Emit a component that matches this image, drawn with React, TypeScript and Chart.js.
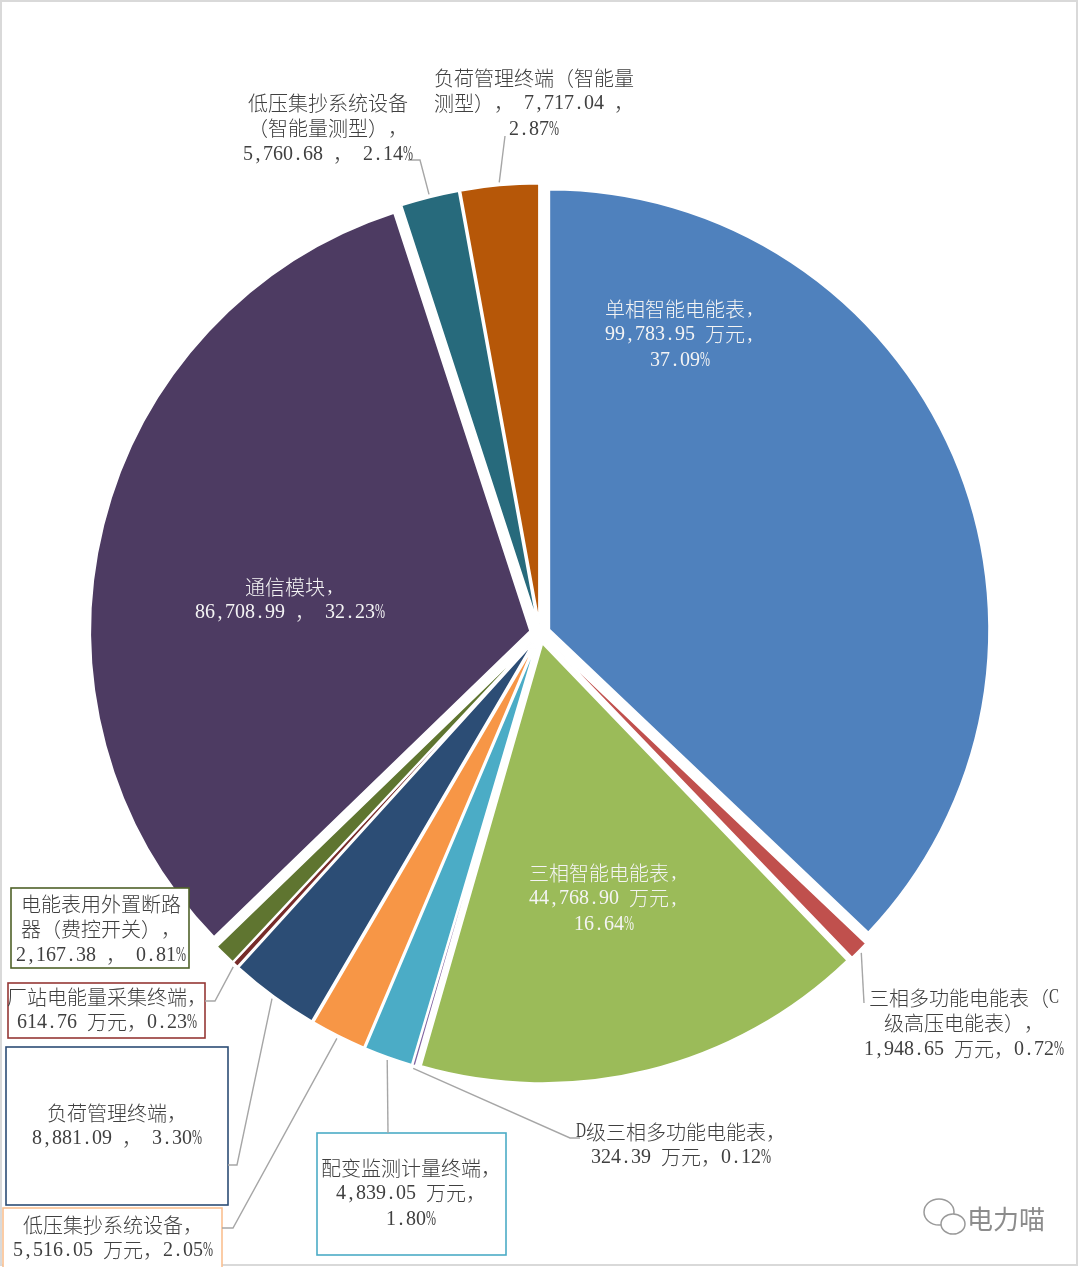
import React, { useEffect, useRef } from "react";
import { Chart, registerables } from "chart.js";

Chart.register(...registerables);

// ---------- data ----------
const categories = [
  "单相智能电能表",
  "三相多功能电能表（C级高压电能表）",
  "三相智能电能表",
  "D级三相多功能电能表",
  "配变监测计量终端",
  "低压集抄系统设备",
  "负荷管理终端",
  "厂站电能量采集终端",
  "电能表用外置断路器（费控开关）",
  "通信模块",
  "低压集抄系统设备（智能量测型）",
  "负荷管理终端（智能量测型）",
];
const values = [
  99783.95, 1948.65, 44768.9, 324.39, 4839.05, 5516.05, 8881.09, 614.76,
  2167.38, 86708.99, 5760.68, 7717.04,
];
const colors = [
  "#4F81BD", "#C0504D", "#9BBB59", "#8064A2", "#4BACC6", "#F79646",
  "#2C4D75", "#772C2A", "#5F7530", "#4D3B62", "#276A7C", "#B65708",
];
const labelLines: string[][] = [
  ["单相智能电能表,", "99,783.95 万元,", "37.09%"],
  ["三相多功能电能表（C", "级高压电能表），", "1,948.65 万元，0.72%"],
  ["三相智能电能表,", "44,768.90 万元,", "16.64%"],
  ["D级三相多功能电能表，", "324.39 万元，0.12%"],
  ["配变监测计量终端，", "4,839.05 万元，", "1.80%"],
  ["低压集抄系统设备，", "5,516.05 万元，2.05%"],
  ["负荷管理终端，", "8,881.09 ， 3.30%"],
  ["厂站电能量采集终端，", "614.76 万元，0.23%"],
  ["电能表用外置断路", "器（费控开关），", "2,167.38 ， 0.81%"],
  ["通信模块,", "86,708.99 ， 32.23%"],
  ["低压集抄系统设备", "（智能量测型），", "5,760.68 ， 2.14%"],
  ["负荷管理终端（智能量", "测型）， 7,717.04 ，", "2.87%"],
];

// ---------- label layout (annotation placement only) ----------
type LabelLayout = {
  x: number;
  y: number;
  inside?: boolean;
  box?: [number, number, number, number];
  boxColor?: string;
  leader?: [number, number][];
};
const labelLayout: LabelLayout[] = [
  { x: 680, y: 309, inside: true },
  { x: 964, y: 998, leader: [[864, 1003]] },
  { x: 604, y: 873, inside: true },
  { x: 681, y: 1132, leader: [[570, 1138], [580, 1138]] },
  { x: 411, y: 1168, box: [317, 1133, 189, 122], leader: [[388, 1133]] },
  { x: 113, y: 1225, box: [3, 1208, 219, 72], boxColor: "#FAC090", leader: [[233, 1228], [222, 1228]] },
  { x: 117, y: 1113, box: [6, 1047, 222, 158], leader: [[237, 1165], [228, 1165]] },
  { x: 107, y: 997, box: [8, 983, 197, 55], boxColor: "#953735", leader: [[215, 1001], [205, 1001]] },
  { x: 101, y: 904, box: [11, 888, 178, 80], boxColor: "#4F6228" },
  { x: 290, y: 587, inside: true },
  { x: 328, y: 103, leader: [[420, 160], [408, 160]] },
  { x: 534, y: 78, leader: [[505, 136]] },
];

const EXPLODE = 10;
const FS = 20;
const LINE_H = 25.8;
const CJK_FONT = `300 ${FS}px 'Noto Sans CJK SC', sans-serif`;
const LAT_FONT = `${FS}px 'Liberation Serif', serif`;

function isFull(ch: string) {
  return ch.charCodeAt(0) >= 0x2e80;
}

function drawMixed(ctx: CanvasRenderingContext2D, text: string, cx: number, cy: number) {
  const chars = Array.from(text);
  const widths = chars.map((c) => (isFull(c) ? FS : FS / 2));
  const total = widths.reduce((a, b) => a + b, 0);
  let x = cx - total / 2;
  ctx.textBaseline = "middle";
  chars.forEach((c, k) => {
    const w = widths[k];
    if (isFull(c)) {
      ctx.font = CJK_FONT;
      ctx.textAlign = "left";
      ctx.fillText(c, x, cy);
    } else if (c !== " ") {
      ctx.font = LAT_FONT;
      ctx.textAlign = "center";
      const gw = ctx.measureText(c).width;
      if (gw > w) {
        ctx.save();
        ctx.translate(x + w / 2, cy);
        ctx.scale(w / gw, 1);
        ctx.fillText(c, 0, 0);
        ctx.restore();
      } else {
        ctx.fillText(c, x + w / 2, cy);
      }
    }
    x += w;
  });
}

const explodePlugin = {
  id: "explodeArcs",
  beforeDraw(chart: any) {
    const ctx = chart.ctx;
    ctx.save();
    ctx.fillStyle = "#ffffff";
    ctx.fillRect(0, 0, chart.width, chart.height);
    ctx.restore();
  },
  beforeDatasetDraw(chart: any, args: any) {
    const ctx: CanvasRenderingContext2D = chart.ctx;
    args.meta.data.forEach((arc: any) => {
      const { startAngle, endAngle } = arc.getProps(["startAngle", "endAngle"], true);
      const mid = (startAngle + endAngle) / 2;
      ctx.save();
      ctx.translate(Math.cos(mid) * EXPLODE, Math.sin(mid) * EXPLODE);
      arc.draw(ctx, chart.chartArea);
      ctx.restore();
    });
    return false;
  },
};

const labelPlugin = {
  id: "pieLabels",
  afterDraw(chart: any) {
    const ctx: CanvasRenderingContext2D = chart.ctx;
    const meta = chart.getDatasetMeta(0);
    ctx.save();
    // frame
    ctx.strokeStyle = "#D9D9D9";
    ctx.lineWidth = 2;
    ctx.strokeRect(1, 1, 1076, 1264);

    meta.data.forEach((arc: any, i: number) => {
      const lay = labelLayout[i];
      const lines = labelLines[i];
      if (!lay || !lines) return;
      const { x, y, startAngle, endAngle, outerRadius } = arc.getProps(
        ["x", "y", "startAngle", "endAngle", "outerRadius"],
        true
      );
      const mid = (startAngle + endAngle) / 2;
      if (lay.box) {
        const [bx, by, bw, bh] = lay.box;
        ctx.fillStyle = "#ffffff";
        ctx.fillRect(bx, by, bw, bh);
        ctx.strokeStyle = lay.boxColor || colors[i];
        ctx.lineWidth = 1.6;
        ctx.strokeRect(bx, by, bw, bh);
      }
      if (lay.leader) {
        const r = outerRadius + EXPLODE + 3;
        ctx.beginPath();
        ctx.moveTo(x + Math.cos(mid) * r, y + Math.sin(mid) * r);
        lay.leader.forEach(([lx, ly]) => ctx.lineTo(lx, ly));
        ctx.strokeStyle = "#A6A6A6";
        ctx.lineWidth = 1.4;
        ctx.stroke();
      }
      ctx.fillStyle = lay.inside ? "#F4F4F4" : "#404040";
      lines.forEach((t, k) => drawMixed(ctx, t, lay.x, lay.y + k * LINE_H));
    });

    // watermark
    ctx.strokeStyle = "#9a9a9a";
    ctx.lineWidth = 1.5;
    ctx.beginPath();
    ctx.ellipse(939, 1212, 15, 13, 0, 0, Math.PI * 2);
    ctx.stroke();
    ctx.fillStyle = "#ffffff";
    ctx.beginPath();
    ctx.ellipse(953, 1224, 12, 10, 0, 0, Math.PI * 2);
    ctx.fill();
    ctx.stroke();
    ctx.font = "26px 'Noto Sans CJK SC', sans-serif";
    ctx.fillStyle = "#8c8c8c";
    ctx.textAlign = "left";
    ctx.textBaseline = "middle";
    ctx.fillText("电力喵", 967, 1219);
    ctx.restore();
  },
};

export default function App() {
  const ref = useRef<HTMLCanvasElement | null>(null);
  useEffect(() => {
    document.body.style.margin = "0";
    if (!ref.current) return;
    const chart = new Chart(ref.current, {
      type: "pie",
      data: {
        labels: categories,
        datasets: [
          {
            data: values,
            backgroundColor: colors,
            borderColor: "#ffffff",
            borderWidth: 2,
            radius: 440,
          } as any,
        ],
      },
      options: {
        animation: false,
        responsive: false,
        layout: { padding: 0 },
        plugins: {
          legend: { display: false },
          tooltip: { enabled: false },
        },
        events: [],
      },
      plugins: [explodePlugin, labelPlugin],
    });
    return () => chart.destroy();
  }, []);
  return (
    <div style={{ position: "absolute", left: 0, top: 0, width: 1080, height: 1267 }}>
      <canvas ref={ref} width={1080} height={1267} style={{ width: 1080, height: 1267 }} />
    </div>
  );
}
